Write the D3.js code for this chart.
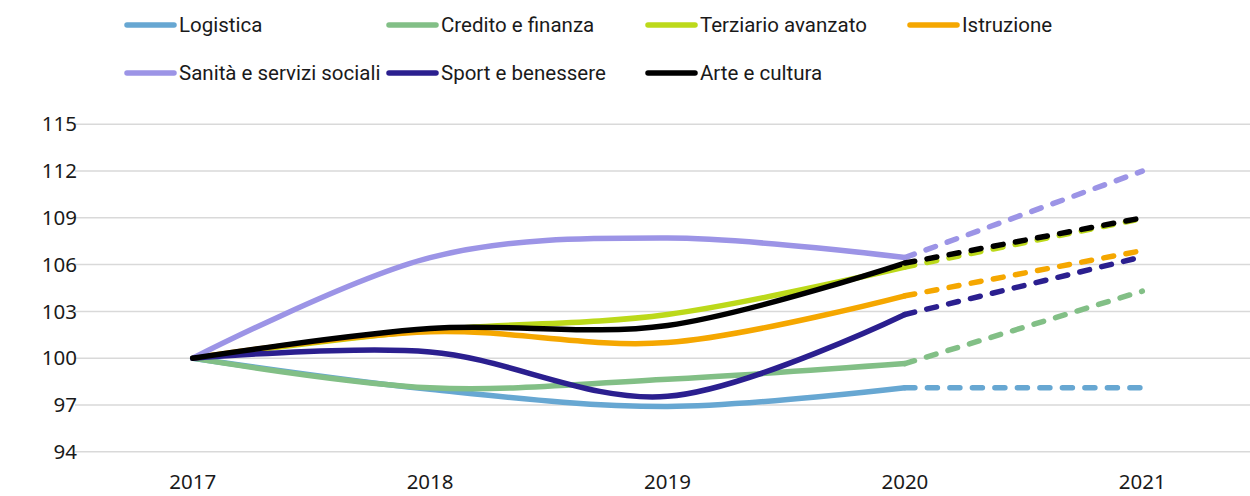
<!DOCTYPE html>
<html>
<head>
<meta charset="utf-8">
<script src="https://cdn.jsdelivr.net/npm/d3@7"></script>
<style>
  body { margin: 0; background: #fff; }
  svg text { fill: #1a1a1a; }
</style>
</head>
<body>
<div id="chart"></div>
<script>
// data
const years = ['2017', '2018', '2019', '2020', '2021'];
const yTicks = [94, 97, 100, 103, 106, 109, 112, 115];

const logistica  = [100, 98.0, 96.9, 98.1, 98.1];
const credito    = [100, 98.1, 98.65, 99.65, 104.3];
const terziario  = [100, 101.8, 102.8, 105.85, 108.95];
const istruzione = [100, 101.7, 101.0, 104.0, 106.9];
const sanita     = [100, 106.45, 107.7, 106.45, 112.0];
const sport      = [100, 100.4, 97.55, 102.8, 106.5];
const arte       = [100, 101.9, 102.1, 106.1, 109.0];

const seriesNames = ['Logistica', 'Credito e finanza', 'Terziario avanzato', 'Istruzione',
  'Sanità e servizi sociali', 'Sport e benessere', 'Arte e cultura'];
const seriesValues = [logistica, credito, terziario, istruzione, sanita, sport, arte];
const seriesColors = ['#67a7d2', '#82bf86', '#bcd91a', '#f5a700', '#9c94e6', '#2b1f8f', '#000000'];

const series = seriesNames.map((name, i) => ({
  name: name,
  color: seriesColors[i],
  values: seriesValues[i].map((v, j) => ({ year: years[j], value: v }))
}));

const width = 1250, height = 496;

const svg = d3.select('#chart')
  .append('svg')
  .attr('width', width)
  .attr('height', height);

const x = d3.scalePoint().domain(years).range([74, 1261]).padding(0.5);
const y = d3.scaleLinear().domain([94, 115]).range([451.7, 124.3]);

// gridlines
svg.append('g')
  .selectAll('line')
  .data(yTicks)
  .enter()
  .append('line')
  .attr('x1', 75)
  .attr('x2', 1250)
  .attr('y1', d => y(d))
  .attr('y2', d => y(d))
  .attr('stroke', '#d9d9d9')
  .attr('stroke-width', 1.5);

// y axis labels
svg.append('g')
  .selectAll('text')
  .data(yTicks)
  .enter()
  .append('text')
  .attr('x', 77)
  .attr('y', d => y(d))
  .attr('dy', '0.35em')
  .attr('text-anchor', 'end')
  .style('font-family', '"Noto Sans", sans-serif')
  .style('font-size', '20.5px')
  .text(d => d);

// x axis labels
svg.append('g')
  .selectAll('text')
  .data(years)
  .enter()
  .append('text')
  .attr('x', d => x(d))
  .attr('y', 482)
  .attr('dy', '0.35em')
  .attr('text-anchor', 'middle')
  .style('font-family', '"Noto Sans", sans-serif')
  .style('font-size', '20.5px')
  .text(d => d);

const smooth = d3.line()
  .x(d => x(d.year))
  .y(d => y(d.value))
  .curve(d3.curveCardinal.tension(0));

const straight = d3.line()
  .x(d => x(d.year))
  .y(d => y(d.value));

const lines = svg.append('g');

// solid part 2017-2020
lines.selectAll('.solid')
  .data(series)
  .enter()
  .append('path')
  .attr('class', 'solid')
  .attr('d', d => smooth(d.values.slice(0, 4)))
  .attr('fill', 'none')
  .attr('stroke', d => d.color)
  .attr('stroke-width', 5.5)
  .attr('stroke-linecap', 'round');

// dashed forecast 2020-2021
lines.selectAll('.dashed')
  .data(series)
  .enter()
  .append('path')
  .attr('class', 'dashed')
  .attr('d', d => straight(d.values.slice(3)))
  .attr('fill', 'none')
  .attr('stroke', d => d.color)
  .attr('stroke-width', 5.5)
  .attr('stroke-linecap', 'round')
  .attr('stroke-dasharray', '10 12.5');

// legend
const legendX = [125, 387, 646, 908];
const legendY = [25, 73];

const legend = svg.append('g')
  .selectAll('g')
  .data(series)
  .enter()
  .append('g')
  .attr('transform', (d, i) => `translate(${legendX[i % 4]},${legendY[Math.floor(i / 4)]})`);

legend.append('line')
  .attr('x1', 2)
  .attr('x2', 49)
  .attr('stroke', d => d.color)
  .attr('stroke-width', 5.5)
  .attr('stroke-linecap', 'round');

legend.append('text')
  .attr('x', 54)
  .attr('dy', '0.35em')
  .style('font-family', 'Roboto, sans-serif')
  .style('font-size', '20.5px')
  .text(d => d.name);
</script>
</body>
</html>
